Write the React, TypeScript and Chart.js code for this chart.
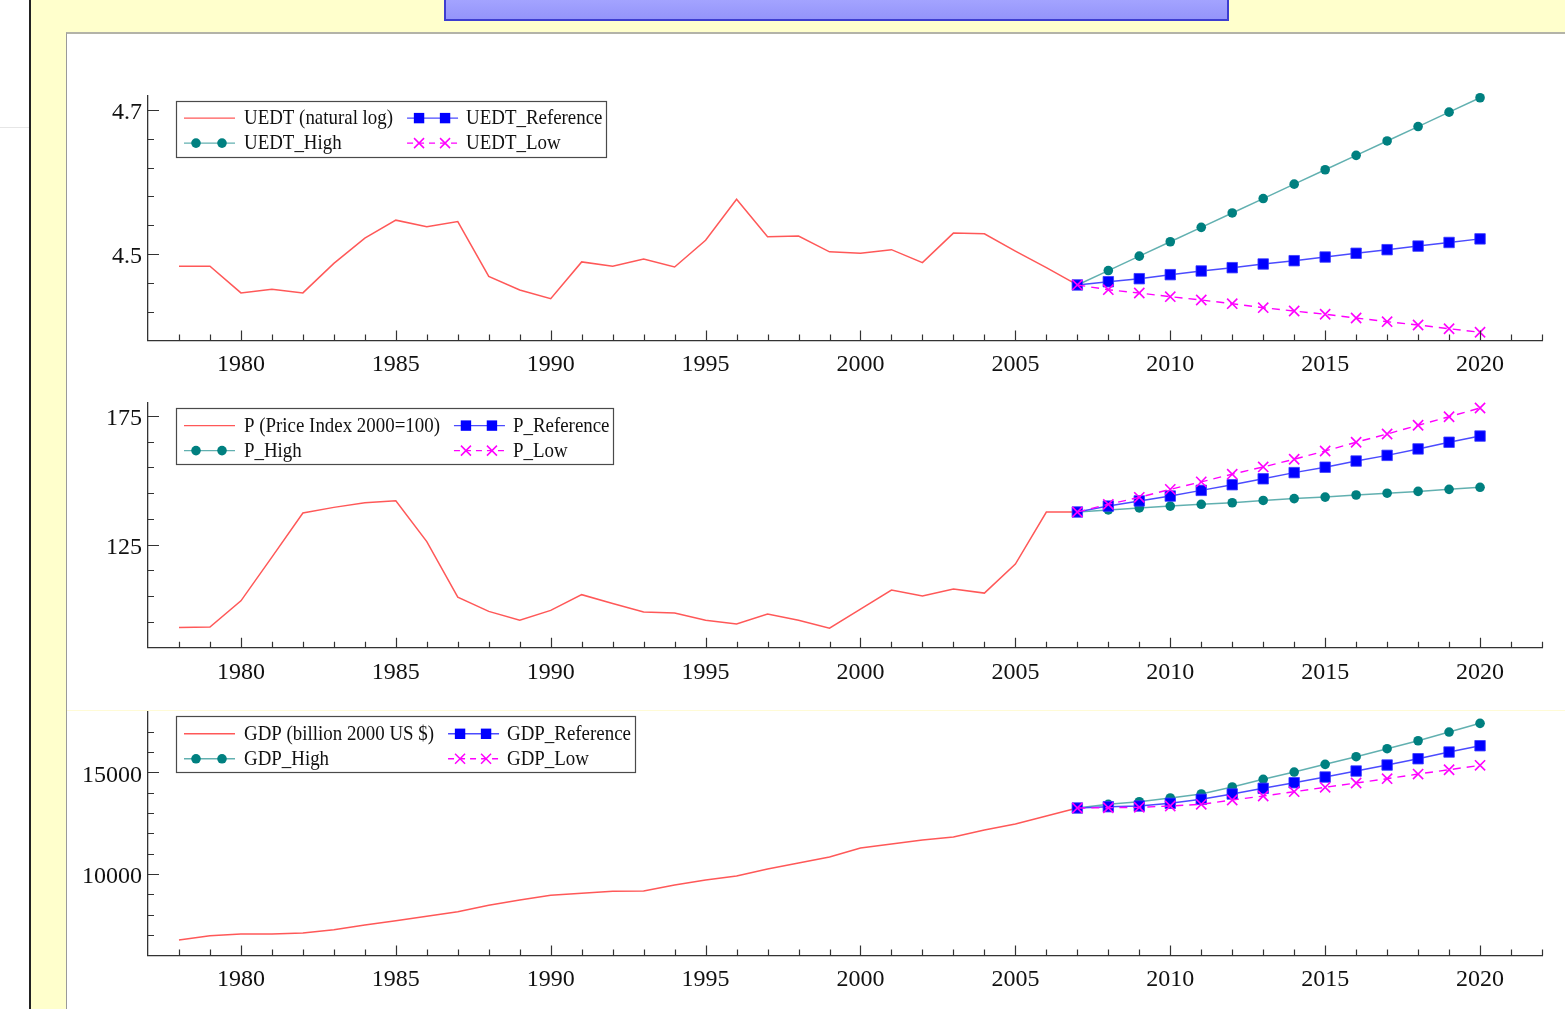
import React, { useEffect, useRef } from "react";
import { Chart, registerables } from "chart.js";

Chart.register(...registerables);

// ---------- data ----------
const HIST_YEARS = [
  1978, 1979, 1980, 1981, 1982, 1983, 1984, 1985, 1986, 1987,
  1988, 1989, 1990, 1991, 1992, 1993, 1994, 1995, 1996, 1997,
  1998, 1999, 2000, 2001, 2002, 2003, 2004, 2005, 2006, 2007,
];
const PROJ_YEARS = [2007, 2008, 2009, 2010, 2011, 2012, 2013, 2014, 2015, 2016, 2017, 2018, 2019, 2020];

const UEDT_HIST = [
  4.483, 4.483, 4.446, 4.451, 4.446, 4.487, 4.522, 4.547, 4.538, 4.545,
  4.469, 4.45, 4.438, 4.489, 4.483, 4.493, 4.482, 4.519, 4.576, 4.524,
  4.525, 4.503, 4.501, 4.506, 4.488, 4.529, 4.528, 4.504, 4.481, 4.457,
];
const UEDT_HIGH = [4.457, 4.477, 4.497, 4.517, 4.537, 4.557, 4.577, 4.597, 4.617, 4.637, 4.657, 4.677, 4.697, 4.717];
const UEDT_REF = [4.457, 4.4615, 4.4657, 4.4713, 4.4764, 4.481, 4.4861, 4.4907, 4.4958, 4.501, 4.506, 4.511, 4.516, 4.521];
const UEDT_LOW = [4.457, 4.4504, 4.4458, 4.4407, 4.4361, 4.431, 4.4254, 4.4208, 4.4163, 4.4111, 4.406, 4.4014, 4.3962, 4.3913];

const P_HIST = [
  92.8, 93.0, 103.2, 120.2, 137.3, 139.5, 141.3, 142.1, 126.2, 104.6,
  99.1, 95.7, 99.5, 105.6, 102.2, 98.9, 98.5, 95.7, 94.2, 98.1,
  95.7, 92.6, 100.0, 107.4, 105.1, 107.8, 106.2, 117.5, 137.7, 137.7,
];
const P_HIGH = [137.7, 138.5, 139.3, 140.0, 140.7, 141.3, 142.2, 142.9, 143.5, 144.3, 145.0, 145.7, 146.5, 147.3];
const P_REF = [137.7, 140.0, 142.0, 143.9, 146.1, 148.3, 150.6, 153.0, 155.1, 157.5, 159.7, 162.2, 164.8, 167.2];
const P_LOW = [137.7, 140.7, 143.4, 146.5, 149.4, 152.4, 155.2, 158.2, 161.4, 164.8, 168.0, 171.4, 174.7, 178.1];

const GDP_HIST = [
  6759, 6970, 7054, 7054, 7103, 7265, 7496, 7708, 7924, 8150,
  8464, 8725, 8956, 9054, 9152, 9167, 9462, 9708, 9904, 10249,
  10544, 10839, 11280, 11477, 11673, 11821, 12165, 12460, 12853, 13246,
];
const GDP_HIGH = [13246, 13427, 13555, 13737, 13934, 14278, 14656, 15015, 15393, 15767, 16160, 16553, 16980, 17408];
const GDP_REF = [13246, 13310, 13344, 13477, 13673, 13934, 14214, 14489, 14769, 15064, 15359, 15668, 15998, 16307];
const GDP_LOW = [13246, 13260, 13280, 13344, 13427, 13639, 13835, 14047, 14263, 14474, 14686, 14916, 15128, 15344];

const UEDT_LABELS = ["UEDT (natural log)", "UEDT_Reference", "UEDT_High", "UEDT_Low"];
const P_LABELS = ["P (Price Index 2000=100)", "P_Reference", "P_High", "P_Low"];
const GDP_LABELS = ["GDP (billion 2000 US $)", "GDP_Reference", "GDP_High", "GDP_Low"];

// tick labels
const X_TICKS = [
  1978, 1979, 1980, 1981, 1982, 1983, 1984, 1985, 1986, 1987, 1988, 1989, 1990, 1991, 1992,
  1993, 1994, 1995, 1996, 1997, 1998, 1999, 2000, 2001, 2002, 2003, 2004, 2005, 2006, 2007,
  2008, 2009, 2010, 2011, 2012, 2013, 2014, 2015, 2016, 2017, 2018, 2019, 2020, 2021, 2022,
];
const X_LABELS = [1980, 1985, 1990, 1995, 2000, 2005, 2010, 2015, 2020];
const X_RANGE = [1977, 2022];

const UEDT_YTICKS = [4.42, 4.46, 4.5, 4.54, 4.58, 4.62, 4.66, 4.7];
const UEDT_YLABELS = [4.5, 4.7];
const UEDT_RANGE = [4.38, 4.72];

const P_YTICKS = [95, 105, 115, 125, 135, 145, 155, 165, 175];
const P_YLABELS = [125, 175];
const P_RANGE = [85, 180];

const GDP_YTICKS = [7000, 8000, 9000, 10000, 11000, 12000, 13000, 14000, 15000, 16000, 17000];
const GDP_YLABELS = [10000, 15000];
const GDP_RANGE = [6000, 18000];

// ---------- styles ----------
const RED = "#ff5858";
const TEAL = "#008080";
const TEAL_LINE = "rgba(0,128,128,0.62)";
const BLUE = "#0000ff";
const BLUE_LINE = "#4b4bff";
const MAGENTA = "#ff00ff";
const FONT = '"Liberation Serif", "Times New Roman", serif';
const AXIS = "#333333";
const SX = 0.9; // horizontal condensing of legend text

function drawMarker(ctx: CanvasRenderingContext2D, kind: string, x: number, y: number) {
  ctx.save();
  ctx.setLineDash([]);
  if (kind === "circle") {
    ctx.fillStyle = TEAL;
    ctx.beginPath();
    ctx.arc(x, y, 4.8, 0, Math.PI * 2);
    ctx.fill();
  } else if (kind === "rect") {
    ctx.fillStyle = BLUE;
    ctx.fillRect(x - 5.2, y - 5.2, 10.4, 10.4);
  } else if (kind === "cross") {
    ctx.strokeStyle = MAGENTA;
    ctx.lineWidth = 1.5;
    ctx.beginPath();
    ctx.moveTo(x - 5, y - 5);
    ctx.lineTo(x + 5, y + 5);
    ctx.moveTo(x + 5, y - 5);
    ctx.lineTo(x - 5, y + 5);
    ctx.stroke();
  }
  ctx.restore();
}

const decorPlugin = {
  id: "decor",
  afterDraw(chart: any, _args: any, opts: any) {
    const { ctx, chartArea } = chart;
    const xs = chart.scales.x;
    const ys = chart.scales.y;
    ctx.save();
    // inward tick marks
    ctx.strokeStyle = AXIS;
    ctx.lineWidth = 1.2;
    ctx.beginPath();
    for (const v of opts.xTicks as number[]) {
      const px = Math.round(xs.getPixelForValue(v)) + 0.5;
      const len = (opts.xLabels as number[]).includes(v) ? 10 : 6;
      ctx.moveTo(px, chartArea.bottom);
      ctx.lineTo(px, chartArea.bottom - len);
    }
    for (const v of opts.yTicks as number[]) {
      const py = Math.round(ys.getPixelForValue(v)) + 0.5;
      const len = (opts.yLabels as number[]).includes(v) ? 11 : 6;
      ctx.moveTo(chartArea.left, py);
      ctx.lineTo(chartArea.left + len, py);
    }
    ctx.stroke();

    // legend box
    const labels: string[] = opts.labels;
    ctx.font = `21px ${FONT}`;
    const mw = (s: string) => ctx.measureText(s).width * SX;
    const left = chartArea.left + 28;
    const top = chartArea.top + 5;
    const col1 = left + 8;
    const w1 = Math.max(mw(labels[0]), mw(labels[2]));
    const col2 = col1 + 60 + w1 + 14;
    const w2 = Math.max(mw(labels[1]), mw(labels[3]));
    const right = col2 + 59 + w2 + 4;
    const h = 56;
    ctx.fillStyle = "#ffffff";
    ctx.fillRect(left, top, right - left, h);
    ctx.strokeStyle = "#4a4a4a";
    ctx.lineWidth = 1.2;
    ctx.strokeRect(Math.round(left) + 0.5, Math.round(top) + 0.5, Math.round(right - left), h);

    const rows = [top + 17, top + 42];
    const items = [
      { x: col1, y: rows[0], color: RED, marker: "", dash: false },
      { x: col2, y: rows[0], color: BLUE_LINE, marker: "rect", dash: false },
      { x: col1, y: rows[1], color: TEAL_LINE, marker: "circle", dash: false },
      { x: col2, y: rows[1], color: MAGENTA, marker: "cross", dash: true },
    ];
    items.forEach((it, i) => {
      ctx.save();
      ctx.strokeStyle = it.color;
      ctx.lineWidth = 1.4;
      ctx.setLineDash(it.dash ? [6, 5] : []);
      ctx.beginPath();
      ctx.moveTo(it.x, it.y + 0.5);
      ctx.lineTo(it.x + 51, it.y + 0.5);
      ctx.stroke();
      ctx.restore();
      if (it.marker) {
        drawMarker(ctx, it.marker, it.x + 12, it.y + 0.5);
        drawMarker(ctx, it.marker, it.x + 38, it.y + 0.5);
      }
      ctx.save();
      ctx.fillStyle = "#111111";
      ctx.textBaseline = "middle";
      ctx.textAlign = "left";
      ctx.translate(it.x + (i % 2 === 0 ? 60 : 59), it.y + 1);
      ctx.scale(SX, 1);
      ctx.fillText(labels[i], 0, 0);
      ctx.restore();
    });
    ctx.restore();
  },
};

type PanelProps = {
  top: number;
  height: number;
  padTop: number;
  xAxisHeight: number;
  hist: number[];
  high: number[];
  ref: number[];
  low: number[];
  labels: string[];
  yRange: number[];
  yTicks: number[];
  yLabels: number[];
};

const noPad = (scale: any) => {
  scale.paddingTop = 0;
  scale.paddingBottom = 0;
  scale.paddingLeft = 0;
  scale.paddingRight = 0;
};

function Panel(p: PanelProps) {
  const canvasRef = useRef<HTMLCanvasElement | null>(null);
  useEffect(() => {
    if (!canvasRef.current) return;
    const pts = (xs: number[], ys: number[]) => xs.map((x, i) => ({ x, y: ys[i] }));
    const chart = new Chart(canvasRef.current, {
      type: "line",
      data: {
        datasets: [
          {
            label: p.labels[0],
            data: pts(HIST_YEARS, p.hist),
            borderColor: RED,
            borderWidth: 1.5,
            pointRadius: 0,
            tension: 0,
            order: 3,
            clip: false as any,
          },
          {
            label: p.labels[2],
            data: pts(PROJ_YEARS, p.high),
            borderColor: TEAL_LINE,
            borderWidth: 1.5,
            pointStyle: "circle",
            pointRadius: 4.8,
            pointBackgroundColor: TEAL,
            pointBorderColor: TEAL,
            pointBorderWidth: 0,
            tension: 0,
            order: 2,
            clip: false as any,
          },
          {
            label: p.labels[1],
            data: pts(PROJ_YEARS, p.ref),
            borderColor: BLUE_LINE,
            borderWidth: 1.5,
            pointStyle: "rect",
            pointRadius: 7.4,
            pointBackgroundColor: BLUE,
            pointBorderColor: "#3a3aff",
            pointBorderWidth: 0.8,
            tension: 0,
            order: 1,
            clip: false as any,
          },
          {
            label: p.labels[3],
            data: pts(PROJ_YEARS, p.low),
            borderColor: MAGENTA,
            borderWidth: 1.4,
            borderDash: [8, 6],
            pointStyle: "crossRot",
            pointRadius: 7.2,
            pointBorderColor: MAGENTA,
            pointBackgroundColor: MAGENTA,
            pointBorderWidth: 1.6,
            tension: 0,
            order: 0,
            clip: false as any,
          },
        ],
      },
      options: {
        animation: false,
        responsive: false,
        events: [],
        layout: { autoPadding: false, padding: { left: 0, right: 23, top: p.padTop, bottom: 0 } },
        plugins: {
          legend: { display: false },
          tooltip: { enabled: false },
          decor: {
            xTicks: X_TICKS,
            xLabels: X_LABELS,
            yTicks: p.yTicks,
            yLabels: p.yLabels,
            labels: p.labels,
          },
        } as any,
        scales: {
          x: {
            type: "linear",
            min: X_RANGE[0],
            max: X_RANGE[1],
            afterBuildTicks: (scale: any) => {
              scale.ticks = X_TICKS.map((v) => ({ value: v }));
            },
            afterFit: (scale: any) => {
              scale.height = p.xAxisHeight;
              noPad(scale);
            },
            grid: { display: false, drawTicks: false },
            border: { display: true, color: AXIS, width: 1.3 },
            ticks: {
              autoSkip: false,
              maxRotation: 0,
              minRotation: 0,
              padding: 10.2,
              color: "#111111",
              font: { family: FONT, size: 24 },
              callback: (v: any) => (X_LABELS.includes(Number(v)) ? String(v) : ""),
            },
          },
          y: {
            type: "linear",
            min: p.yRange[0],
            max: p.yRange[1],
            afterBuildTicks: (scale: any) => {
              scale.ticks = p.yTicks.map((v) => ({ value: v }));
            },
            afterFit: (scale: any) => {
              scale.width = 148;
              noPad(scale);
            },
            grid: { display: false, drawTicks: false },
            border: { display: true, color: AXIS, width: 1.3 },
            ticks: {
              autoSkip: false,
              padding: 6,
              labelOffset: 3,
              color: "#111111",
              font: { family: FONT, size: 24 },
              callback: (v: any) => (p.yLabels.includes(Number(v)) ? String(v) : ""),
            },
          },
        },
      },
      plugins: [decorPlugin as any],
    });
    return () => chart.destroy();
  }, []);
  return (
    <canvas
      ref={canvasRef}
      width={1565}
      height={p.height}
      style={{ position: "absolute", left: 0, top: p.top, width: 1565, height: p.height, display: "block" }}
    />
  );
}

export default function App() {
  return (
    <div
      style={{
        position: "fixed",
        left: 0,
        top: 0,
        width: 1565,
        height: 1009,
        overflow: "hidden",
        background: "#ffffcc",
      }}
    >
      <div style={{ position: "absolute", left: 0, top: 0, width: 29, height: 1009, background: "#ffffff" }} />
      <div style={{ position: "absolute", left: 0, top: 127, width: 29, height: 1, background: "#e6e6e6" }} />
      <div style={{ position: "absolute", left: 29, top: 0, width: 2, height: 1009, background: "#222222" }} />
      <div
        style={{
          position: "absolute",
          left: 444,
          top: -3,
          width: 781,
          height: 20,
          background: "linear-gradient(#a4a4ff, #9494fa)",
          border: "2px solid #3d3dd0",
        }}
      />
      <div
        style={{
          position: "absolute",
          left: 66,
          top: 32,
          width: 1499,
          height: 977,
          background: "#ffffff",
          borderTop: "2px solid #b3b3a8",
          borderLeft: "1px solid #9a9a9a",
          boxSizing: "border-box",
        }}
      />
      <div style={{ position: "absolute", left: 67, top: 710, width: 1498, height: 1, background: "#fffbd6" }} />
      <Panel
        top={40}
        height={360}
        padTop={55.6}
        xAxisHeight={59.6}
        hist={UEDT_HIST}
        high={UEDT_HIGH}
        ref={UEDT_REF}
        low={UEDT_LOW}
        labels={UEDT_LABELS}
        yRange={UEDT_RANGE}
        yTicks={UEDT_YTICKS}
        yLabels={UEDT_YLABELS}
      />
      <Panel
        top={400}
        height={310}
        padTop={3.1}
        xAxisHeight={62.3}
        hist={P_HIST}
        high={P_HIGH}
        ref={P_REF}
        low={P_LOW}
        labels={P_LABELS}
        yRange={P_RANGE}
        yTicks={P_YTICKS}
        yLabels={P_YLABELS}
      />
      <Panel
        top={706}
        height={303}
        padTop={5.3}
        xAxisHeight={53.6}
        hist={GDP_HIST}
        high={GDP_HIGH}
        ref={GDP_REF}
        low={GDP_LOW}
        labels={GDP_LABELS}
        yRange={GDP_RANGE}
        yTicks={GDP_YTICKS}
        yLabels={GDP_YLABELS}
      />
    </div>
  );
}
